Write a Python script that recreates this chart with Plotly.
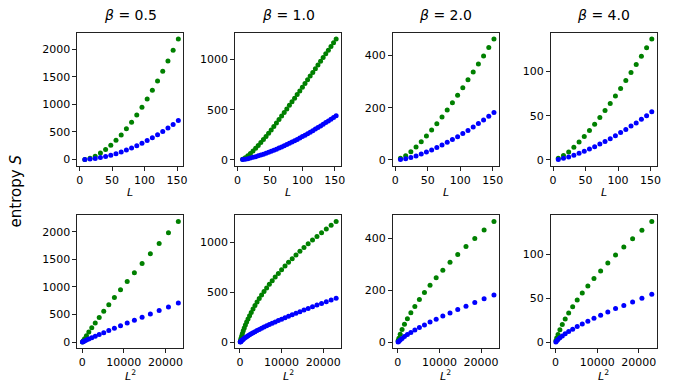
import plotly.graph_objects as go

# ---------------- data ----------------
betas = ["0.5", "1.0", "2.0", "4.0"]
L_step8 = list(range(8, 153, 8))     # 19 sizes
L_step4 = list(range(8, 153, 4))     # 37 sizes (beta = 1.0)

green_b05 = [0, 22, 62, 117, 183, 260, 348, 447, 557, 677, 807, 947, 1097, 1256, 1424, 1601, 1787, 1982, 2186]
blue_b05 = [2, 10, 21, 36, 55, 78, 105, 136, 171, 209, 250, 295, 344, 396, 451, 509, 571, 637, 707]

green_b10 = [5, 20, 40, 63, 88, 115, 143, 172, 202, 233, 265, 298, 332, 366, 401, 436, 471,
             507, 543, 579, 615, 651, 687, 724, 761, 798, 835, 872, 909, 946, 983, 1020, 1057,
             1094, 1131, 1168, 1206]
blue_b10 = [2, 6, 11, 17, 24, 31, 39, 47, 56, 65, 75, 85, 95, 106, 117, 128, 140, 152, 164, 177,
            190, 203, 217, 231, 245, 260, 275, 290, 306, 322, 338, 354, 371, 388, 405, 422, 439]

green_b20 = [6, 16, 31, 49, 69, 91, 114, 138, 164, 191, 219, 248, 277, 307, 337, 368, 399, 431, 464]
blue_b20 = [1, 4, 9, 15, 22, 30, 38, 47, 57, 67, 78, 89, 101, 113, 126, 139, 153, 167, 182]

green_b40 = [2, 5, 9, 14.5, 20.5, 26.5, 33.5, 40.5, 48, 56, 64, 72.5, 81, 90, 99, 108, 117.5, 127, 137]
blue_b40 = [0.5, 2, 3.5, 5.5, 7.5, 10, 12.5, 15, 18, 21, 24, 27.5, 31, 34.5, 38.5, 42, 46, 50, 54.5]

sizes = [L_step8, L_step4, L_step8, L_step8]
greens = [green_b05, green_b10, green_b20, green_b40]
blues = [blue_b05, blue_b10, blue_b20, blue_b40]

y_ticks = [[0, 500, 1000, 1500, 2000], [0, 500, 1000], [0, 200, 400], [0, 50, 100]]
x_ticks_top = [0, 50, 100, 150]
x_ticks_bot = [0, 10000, 20000]
x_range_top = [-3.4, 159.4]
x_range_bot = [-1140, 24260]

# ---------------- layout geometry ----------------
W, H = 673, 392
col_left = [77, 236, 395, 554]
ax_w = 106.5
row_top = [(33, 166), (216, 349)]

FONT = "DejaVu Sans"
GREEN = "#008000"
BLUE = "#0000ff"


def pad_range(vals):
    lo, hi = min(vals), max(vals)
    d = (hi - lo) * 0.05
    return [lo - d, hi + d]


fig = go.Figure()
layout = dict(
    width=W, height=H, margin=dict(l=0, r=0, t=0, b=0),
    paper_bgcolor="white", plot_bgcolor="white", showlegend=False,
    font=dict(family=FONT, size=11, color="black"),
)
annotations = []

for r in range(2):
    for c in range(4):
        k = r * 4 + c + 1
        xs_name = "x" if k == 1 else f"x{k}"
        ys_name = "y" if k == 1 else f"y{k}"
        Ls = sizes[c]
        xv = Ls if r == 0 else [l * l for l in Ls]
        for ser, col in ((greens[c], GREEN), (blues[c], BLUE)):
            fig.add_trace(go.Scatter(
                x=xv, y=ser, mode="markers",
                marker=dict(color=col, size=5, line=dict(width=0)),
                xaxis=xs_name, yaxis=ys_name, hoverinfo="skip"))
        x0 = col_left[c] / W
        x1 = (col_left[c] + ax_w) / W
        yt, yb = row_top[r]
        y0 = 1 - yb / H
        y1 = 1 - yt / H
        axis_common = dict(
            showgrid=False, zeroline=False, showline=True, linecolor="#222",
            linewidth=1, mirror=True, ticks="outside", ticklen=4, tickwidth=1,
            tickcolor="#222", tickfont=dict(family=FONT, size=11, color="black"),
            tickformat="d",
        )
        xkey = "xaxis" if k == 1 else f"xaxis{k}"
        ykey = "yaxis" if k == 1 else f"yaxis{k}"
        layout[xkey] = dict(
            axis_common, domain=[x0, x1], anchor=ys_name,
            range=x_range_top if r == 0 else x_range_bot,
            tickvals=x_ticks_top if r == 0 else x_ticks_bot,
        )
        layout[ykey] = dict(
            axis_common, domain=[y0, y1], anchor=xs_name,
            range=pad_range(greens[c] + blues[c]),
            tickvals=y_ticks[c],
        )
        xc = (col_left[c] + ax_w / 2) / W
        # x-axis title
        annotations.append(dict(
            x=xc, y=1 - (yb + 27) / H, xref="paper", yref="paper",
            text="<i>L</i>" if r == 0 else "<i>L</i><sup>2</sup>",
            showarrow=False, font=dict(family=FONT, size=11, color="black"),
            xanchor="center", yanchor="middle"))
        if r == 0:
            annotations.append(dict(
                x=xc, y=1 - 15 / H, xref="paper", yref="paper",
                text=f"<i>β</i> = {betas[c]}", showarrow=False,
                font=dict(family=FONT, size=14, color="black"),
                xanchor="center", yanchor="middle"))

annotations.append(dict(
    x=15 / W, y=1 - 191 / H, xref="paper", yref="paper",
    text="entropy <i>S</i>", showarrow=False, textangle=-90,
    font=dict(family=FONT, size=15, color="black"),
    xanchor="center", yanchor="middle"))

layout["annotations"] = annotations
fig.update_layout(**layout)
fig.write_html("out.html", config={"displayModeBar": False},
               post_script="document.body.style.margin='0';")
